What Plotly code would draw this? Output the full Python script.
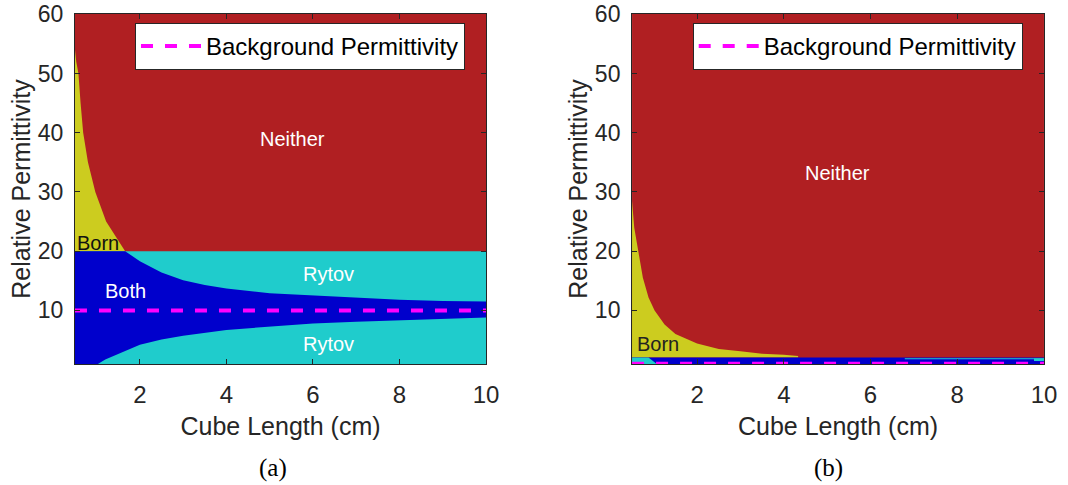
import plotly.graph_objects as go

# ---------------- data ----------------
cube_len_range = [0.5, 10.0]          # cm
eps_range = [0.95, 60.05]
x_ticks = [2, 4, 6, 8, 10]
y_ticks = [10, 20, 30, 40, 50, 60]

# panel (a): background permittivity 10
eps_bg_a = 10.0
rytov_limit_a = 20.0
# Born validity limit above the Rytov limit (yellow / red edge)
born_top_L_a = [0.5, 0.53, 0.58, 0.63, 0.69, 0.80, 0.97, 1.22, 1.66]
born_top_eps_a = [54.0, 52.0, 50.0, 45.0, 40.0, 35.0, 30.0, 25.0, 20.0]
# Born validity limit, upper branch below the Rytov limit (blue / cyan edge)
born_up_L_a = [1.66, 2.0, 2.5, 3.0, 3.5, 4.0, 5.0, 6.0, 7.0, 8.0, 9.0, 10.0]
born_up_eps_a = [20.0, 18.3, 16.4, 15.1, 14.3, 13.7, 12.9, 12.5, 12.1, 11.8, 11.6, 11.5]
# Born validity limit, lower branch (blue / cyan edge)
born_lo_L_a = [1.03, 1.2, 1.5, 2.0, 2.5, 3.0, 4.0, 5.0, 6.0, 7.0, 8.0, 9.0, 10.0]
born_lo_eps_a = [0.95, 1.7, 2.7, 4.2, 5.1, 5.7, 6.7, 7.3, 7.8, 8.1, 8.4, 8.6, 8.8]

# panel (b): background permittivity 1
eps_bg_b = 1.0
rytov_limit_b = 2.04
born_L_b = [0.5, 0.55, 0.64, 0.75, 0.88, 1.02, 1.25, 1.5, 2.0, 2.5, 3.0, 3.5, 4.0, 4.33]
born_eps_b = [28.5, 24.0, 20.0, 15.5, 12.2, 10.0, 7.6, 6.0, 4.4, 3.5, 3.1, 2.7, 2.5, 2.3]
# small Rytov-only patches inside the bottom strip
rytov_left_L_b = [0.5, 0.88, 1.07, 0.5]
rytov_left_eps_b = [2.04, 2.04, 0.95, 0.95]
rytov_line_L_b = [6.79, 10.0, 10.0, 6.79]
rytov_line_eps_b = [1.9, 1.9, 1.76, 1.76]
rytov_end_L_b = [9.77, 10.0, 10.0, 9.77]
rytov_end_eps_b = [1.9, 1.9, 1.45, 1.45]

labels_a = ["Neither", "Rytov", "Rytov", "Both", "Born"]
labels_a_L = [5.53, 6.35, 6.35, 1.66, 1.03]
labels_a_eps = [38.9, 16.1, 4.3, 13.3, 21.3]
labels_a_color = ["white", "white", "white", "white", "#111111"]

labels_b = ["Neither", "Born"]
labels_b_L = [5.24, 1.10]
labels_b_eps = [33.2, 4.3]
labels_b_color = ["white", "#222222"]

legend_name = "Background Permittivity"

# ---------------- styles ----------------
NEITHER = "#B01F22"
BORN = "#CCCC1F"
BOTH = "#0000CC"
RYTOV = "#1FCCCC"
MAGENTA = "#FF00FF"
AX = "#262626"
FONT = "Liberation Sans, Arial, sans-serif"

fig = go.Figure()


def region(xs, ys, color, xa, ya):
    fig.add_trace(go.Scatter(
        x=list(xs) + [xs[0]], y=list(ys) + [ys[0]], mode="lines",
        fill="toself", fillcolor=color, line=dict(width=0, color=color),
        hoverinfo="skip", showlegend=False, xaxis=xa, yaxis=ya))


L0, L1 = cube_len_range
E0, E1 = eps_range

# ---- panel (a)
region([L0, L1, L1, L0], [E0, E0, E1, E1], NEITHER, "x", "y")
region([L0] + born_top_L_a, [rytov_limit_a] + born_top_eps_a, BORN, "x", "y")
region([L0, L1, L1, L0], [E0, E0, rytov_limit_a, rytov_limit_a], RYTOV, "x", "y")
region([L0, L0] + born_up_L_a + born_lo_L_a[::-1],
       [E0, rytov_limit_a] + born_up_eps_a + born_lo_eps_a[::-1], BOTH, "x", "y")
fig.add_trace(go.Scatter(
    x=[L0, L1], y=[eps_bg_a, eps_bg_a], mode="lines", name=legend_name,
    line=dict(color=MAGENTA, width=4, dash="12px,12px"),
    legend="legend", xaxis="x", yaxis="y"))

# ---- panel (b)
region([L0, L1, L1, L0], [E0, E0, E1, E1], NEITHER, "x2", "y2")
region([L0] + born_L_b + [born_L_b[-1]], [rytov_limit_b] + born_eps_b + [rytov_limit_b],
       BORN, "x2", "y2")
region([L0, L1, L1, L0], [E0, E0, rytov_limit_b, rytov_limit_b], BOTH, "x2", "y2")
region(rytov_left_L_b, rytov_left_eps_b, RYTOV, "x2", "y2")
region(rytov_line_L_b, rytov_line_eps_b, RYTOV, "x2", "y2")
region(rytov_end_L_b, rytov_end_eps_b, RYTOV, "x2", "y2")
fig.add_trace(go.Scatter(
    x=[L0, L1], y=[eps_bg_b, eps_bg_b], mode="lines", name=legend_name,
    line=dict(color=MAGENTA, width=4, dash="12px,12px"),
    legend="legend2", xaxis="x2", yaxis="y2"))

annotations = []
for t, x, y, c in zip(labels_a, labels_a_L, labels_a_eps, labels_a_color):
    annotations.append(dict(text=t, x=x, y=y, xref="x", yref="y", showarrow=False,
                            font=dict(family=FONT, size=20, color=c)))
for t, x, y, c in zip(labels_b, labels_b_L, labels_b_eps, labels_b_color):
    annotations.append(dict(text=t, x=x, y=y, xref="x2", yref="y2", showarrow=False,
                            font=dict(family=FONT, size=20, color=c)))
for t, x in zip(["(a)", "(b)"], [0.2556, 0.7753]):
    annotations.append(dict(text=t, x=x, y=0.035, xref="paper", yref="paper",
                            showarrow=False, xanchor="center", yanchor="middle",
                            font=dict(family="Liberation Serif, serif", size=25, color="#000000")))

xaxis_style = dict(range=cube_len_range, tickmode="array", tickvals=x_ticks,
                   ticks="inside", ticklen=5, tickwidth=1, tickcolor=AX,
                   showline=True, linecolor=AX, linewidth=1, mirror="ticks",
                   showgrid=False, zeroline=False, automargin=False,
                   ticklabelstandoff=9, ticklabeloverflow="allow",
                   tickfont=dict(family=FONT, size=24, color=AX),
                   title=dict(text="Cube Length (cm)", standoff=10,
                              font=dict(family=FONT, size=25, color=AX)))
yaxis_style = dict(range=eps_range, tickmode="array", tickvals=y_ticks,
                   ticks="inside", ticklen=5, tickwidth=1, tickcolor=AX,
                   showline=True, linecolor=AX, linewidth=1, mirror="ticks",
                   showgrid=False, zeroline=False, automargin=False,
                   ticklabelstandoff=6, ticklabeloverflow="allow",
                   tickfont=dict(family=FONT, size=23, color=AX),
                   title=dict(text="Relative Permittivity", standoff=0,
                              font=dict(family=FONT, size=25, color=AX)))

legend_style = dict(bgcolor="white", bordercolor=AX, borderwidth=1,
                    font=dict(family=FONT, size=24, color="#000000"),
                    xanchor="left", yanchor="top", y=0.9526,
                    itemwidth=60,
                    itemclick=False, itemdoubleclick=False)

Y_DOMAIN = [0.2495, 0.9711]

fig.update_layout(
    width=1068, height=485, template="none",
    margin=dict(l=0, r=0, t=0, b=0),
    paper_bgcolor="white", plot_bgcolor="white",
    xaxis=dict(domain=[0.0702, 0.4551], anchor="y", **xaxis_style),
    yaxis=dict(domain=Y_DOMAIN, anchor="x", **yaxis_style),
    xaxis2=dict(domain=[0.5918, 0.9775], anchor="y2", **xaxis_style),
    yaxis2=dict(domain=Y_DOMAIN, anchor="x2", **yaxis_style),
    legend=dict(x=0.1264, **legend_style),
    legend2=dict(x=0.6486, **legend_style),
    annotations=annotations,
    showlegend=True,
)

fig.write_html("out.html")
